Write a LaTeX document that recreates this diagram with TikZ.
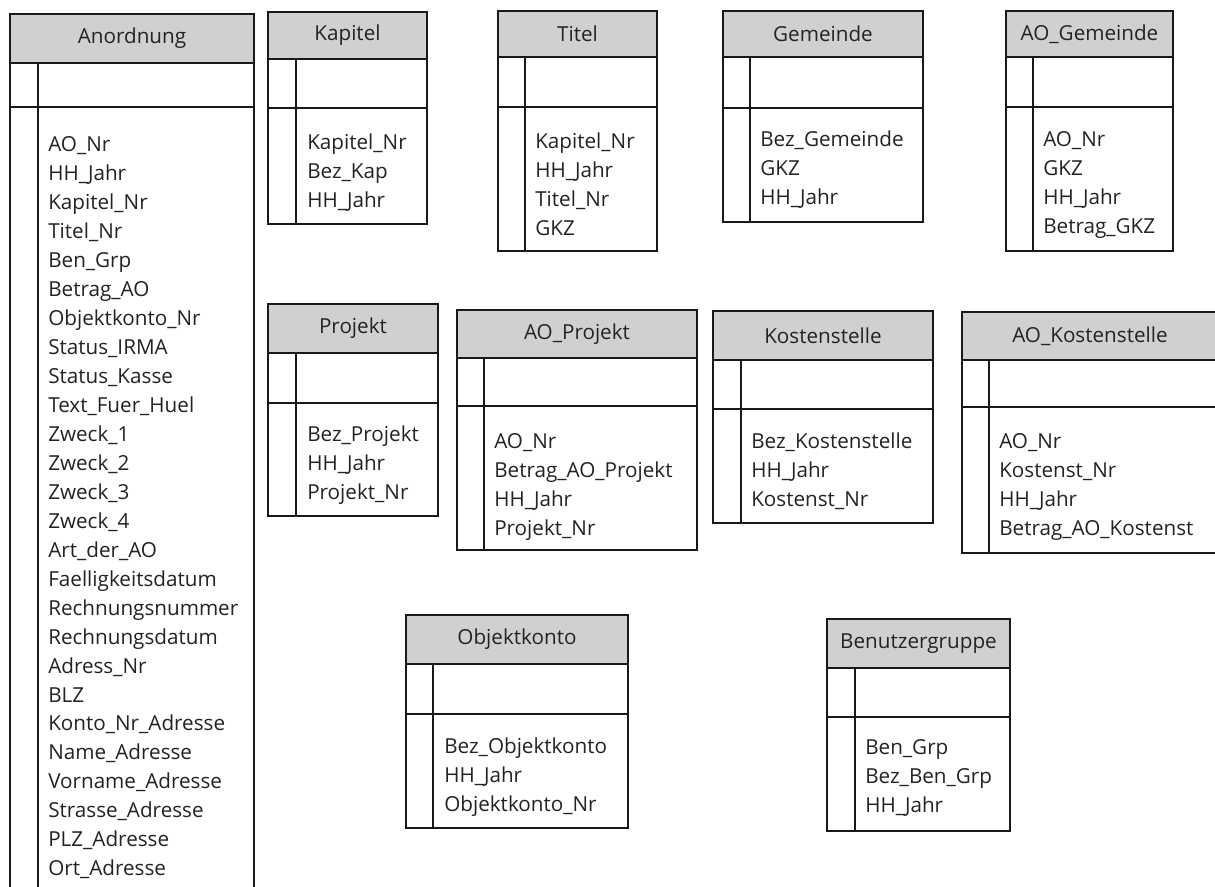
\documentclass[tikz,border=0pt]{standalone}
\usepackage{fontspec}
\setmainfont{Open Sans}
\definecolor{hdrgray}{RGB}{208,208,208}
\definecolor{inkgray}{RGB}{35,35,35}
\definecolor{rulegray}{RGB}{25,25,25}
\tikzset{
  tblline/.style={draw=rulegray, line width=1.15pt},
  hdrfill/.style={fill=hdrgray},
  hdr/.style={inner sep=0pt, text=inkgray, font=\fontsize{15.5}{18}\selectfont},
  fld/.style={inner sep=0pt, anchor=base west, text=inkgray, font=\fontsize{15.5}{18}\selectfont},
}
% table frame: name, x1, x2, top, header bottom, key row bottom, bottom, inner rule x, title
\newcommand\erdtable[9]{%
  \fill[hdrfill] (#2,#4) rectangle (#3,#5);
  \draw[tblline] (#2,#4) rectangle (#3,#7);
  \draw[tblline] (#2,#5) -- (#3,#5) (#2,#6) -- (#3,#6) (#8,#5) -- (#8,#7);
  \node[hdr] (#1) at ({(#2+#3)/2},{(#4+#5)/2}) {#9};
}
% attribute lines: name, x, first baseline, list
\newcommand\erdfields[4]{%
  \foreach \f [count=\i] in {#4} {
    \node[fld] (#1-\i) at (#2,{#3+(\i-1)*28.95}) {\f};
  }
}
\begin{document}
\begin{tikzpicture}[x=0.75pt,y=-0.75pt]
\useasboundingbox (0,0) rectangle (1215,887);
\clip (0,0) rectangle (1215,887);
\fill[white] (0,0) rectangle (1215,887);

\erdtable{anordnung}{10}{254}{14}{63}{107}{900}{38}{Anordnung}
\erdfields{anordnung}{48}{152}{AO\_Nr,HH\_Jahr,Kapitel\_Nr,Titel\_Nr,Ben\_Grp,Betrag\_AO,Objektkonto\_Nr,Status\_IRMA,Status\_Kasse,Text\_Fuer\_Huel,Zweck\_1,Zweck\_2,Zweck\_3,Zweck\_4,Art\_der\_AO,Faelligkeitsdatum,Rechnungsnummer,Rechnungsdatum,Adress\_Nr,BLZ,Konto\_Nr\_Adresse,Name\_Adresse,Vorname\_Adresse,Strasse\_Adresse,PLZ\_Adresse,Ort\_Adresse}

\erdtable{kapitel}{268}{427}{12}{59}{108}{224}{296}{Kapitel}
\erdfields{kapitel}{307}{150}{Kapitel\_Nr,Bez\_Kap,HH\_Jahr}

\erdtable{titel}{498}{657}{11}{57}{107}{251}{525}{Titel}
\erdfields{titel}{535}{149}{Kapitel\_Nr,HH\_Jahr,Titel\_Nr,GKZ}

\erdtable{gemeinde}{723}{923}{11}{57}{108}{222}{750}{Gemeinde}
\erdfields{gemeinde}{760}{147}{Bez\_Gemeinde,GKZ,HH\_Jahr}

\erdtable{aogemeinde}{1006}{1173}{11}{57}{107}{251}{1033}{AO\_Gemeinde}
\erdfields{aogemeinde}{1043}{147}{AO\_Nr,GKZ,HH\_Jahr,Betrag\_GKZ}

\erdtable{projekt}{268}{438}{304}{353}{403}{516}{296}{Projekt}
\erdfields{projekt}{307}{442}{Bez\_Projekt,HH\_Jahr,Projekt\_Nr}

\erdtable{aoprojekt}{457}{697}{310}{358}{406}{550}{484}{AO\_Projekt}
\erdfields{aoprojekt}{494}{449}{AO\_Nr,Betrag\_AO\_Projekt,HH\_Jahr,Projekt\_Nr}

\erdtable{kostenstelle}{713}{933}{311}{360}{409}{523}{741}{Kostenstelle}
\erdfields{kostenstelle}{751}{449}{Bez\_Kostenstelle,HH\_Jahr,Kostenst\_Nr}

\erdtable{aokostenstelle}{962}{1218}{312}{360}{407}{553}{989}{AO\_Kostenstelle}
\erdfields{aokostenstelle}{999}{449}{AO\_Nr,Kostenst\_Nr,HH\_Jahr,Betrag\_AO\_Kostenst}

\erdtable{objektkonto}{406}{628}{615}{664}{714}{828}{433}{Objektkonto}
\erdfields{objektkonto}{444}{754}{Bez\_Objektkonto,HH\_Jahr,Objektkonto\_Nr}

\erdtable{benutzergruppe}{827}{1010}{619}{668}{717}{831}{855}{Benutzergruppe}
\erdfields{benutzergruppe}{865}{755}{Ben\_Grp,Bez\_Ben\_Grp,HH\_Jahr}
\end{tikzpicture}
\end{document}
